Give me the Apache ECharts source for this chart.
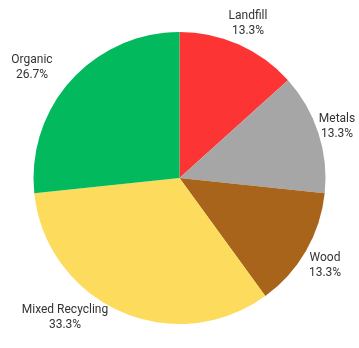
<!DOCTYPE html>
<html>
<head>
<meta charset="utf-8">
<script src="https://cdn.jsdelivr.net/npm/echarts@6/dist/echarts.min.js"></script>
<style>
html,body{margin:0;padding:0;background:#fff;}
#c{width:359px;height:348px;}
</style>
</head>
<body>
<div id="c"></div>
<script>
var categories = ["Landfill", "Metals", "Wood", "Mixed Recycling", "Organic"];
var values = [2, 2, 2, 5, 4];
var colors = ["#FC3434", "#A6A6A6", "#A8641A", "#FDDB5C", "#02BA5D"];

var total = values.reduce(function(a, b){ return a + b; }, 0);
var data = categories.map(function(n, i){
  return { name: n, value: values[i], itemStyle: { color: colors[i] } };
});

// label anchor points (text placement, centred blocks)
var labelAnchor = [[248, 23], [337, 126], [325, 265], [65, 317], [32, 67]];

var chart = echarts.init(document.getElementById('c'), null, { renderer: 'canvas' });
chart.setOption({
  animation: false,
  series: [{
    type: 'pie',
    center: [179.5, 178],
    radius: [0, 146],
    startAngle: 90,
    clockwise: true,
    avoidLabelOverlap: false,
    data: data,
    itemStyle: { borderWidth: 0 },
    emphasis: { disabled: true },
    label: {
      show: true,
      position: 'outside',
      overflow: 'none',
      formatter: function(p){
        return p.name + '\n' + (p.value / total * 100).toFixed(1) + '%';
      },
      fontFamily: 'Roboto',
      fontSize: 12,
      lineHeight: 15,
      color: '#333333',
      align: 'center'
    },
    labelLine: { show: false },
    labelLayout: function(params){
      var a = labelAnchor[params.dataIndex];
      return { x: a[0], y: a[1], align: 'center', verticalAlign: 'middle', hideOverlap: false };
    }
  }]
});
</script>
</body>
</html>
